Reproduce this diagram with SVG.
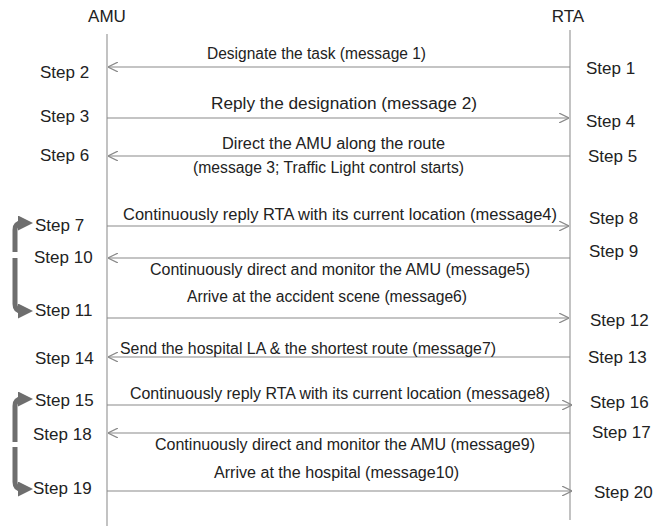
<svg xmlns="http://www.w3.org/2000/svg" width="664" height="526" viewBox="0 0 664 526">
<defs>
<style>
text{font-family:"Liberation Sans",Arial,sans-serif;fill:#222}
.lbl{font-size:16px}
.step{font-size:17px}
.hdr{font-size:17px}
.life{stroke:#9a9a9a;stroke-width:1.2;fill:none}
.msg{stroke:#8a8a8a;stroke-width:1.2;fill:none}
.loop{stroke:#6e6e6e;stroke-width:5;fill:none;stroke-linejoin:round}
</style>
<marker id="ah" viewBox="0 0 10 10" refX="10" refY="5" markerWidth="10" markerHeight="10" markerUnits="userSpaceOnUse" orient="auto">
<path d="M0,0 L10,5 L0,10" fill="none" stroke="#8a8a8a" stroke-width="1.2"/>
</marker>
<marker id="lh" viewBox="0 0 10 10" refX="6" refY="5" markerWidth="3" markerHeight="3" orient="auto">
<path d="M0,0 L10,5 L0,10 Z" fill="#6e6e6e"/>
</marker>
</defs>
<g id="AMU">
<text class="hdr" x="107" y="22" text-anchor="middle">AMU</text>
<line class="life" x1="107" y1="34" x2="107" y2="526"/>
</g>
<g id="RTA">
<text class="hdr" x="568" y="22" text-anchor="middle">RTA</text>
<line class="life" x1="570" y1="30" x2="570" y2="520"/>
</g>
<g id="connectors">
<line class="msg" x1="570" y1="67" x2="108" y2="67" marker-end="url(#ah)"/>
<line class="msg" x1="107" y1="118" x2="569" y2="118" marker-end="url(#ah)"/>
<line class="msg" x1="570" y1="156" x2="108" y2="156" marker-end="url(#ah)"/>
<line class="msg" x1="107" y1="226" x2="569" y2="226" marker-end="url(#ah)"/>
<line class="msg" x1="570" y1="258" x2="108" y2="258" marker-end="url(#ah)"/>
<line class="msg" x1="107" y1="318" x2="569" y2="318" marker-end="url(#ah)"/>
<line class="msg" x1="570" y1="357" x2="108" y2="357" marker-end="url(#ah)"/>
<line class="msg" x1="107" y1="405" x2="572" y2="405" marker-end="url(#ah)"/>
<line class="msg" x1="570" y1="433" x2="108" y2="433" marker-end="url(#ah)"/>
<line class="msg" x1="107" y1="491" x2="572" y2="491" marker-end="url(#ah)"/>
<path class="loop" d="M15,252 V230 Q15,223 22,223 H27" marker-end="url(#lh)"/>
<path class="loop" d="M15,258 V304 Q15,311 22,311 H27" marker-end="url(#lh)"/>
<path class="loop" d="M15,442 V406 Q15,399 22,399 H27" marker-end="url(#lh)"/>
<path class="loop" d="M15,447 V482 Q15,489 22,489 H27" marker-end="url(#lh)"/>
</g>
<g id="messages">
<text class="lbl" x="207" y="59" textLength="219" lengthAdjust="spacingAndGlyphs">Designate the task (message 1)</text>
<text class="lbl" x="211" y="109" textLength="266" lengthAdjust="spacingAndGlyphs">Reply the designation (message 2)</text>
<text class="lbl" x="222" y="149" textLength="223" lengthAdjust="spacingAndGlyphs">Direct the AMU along the route</text>
<text class="lbl" x="193" y="173" textLength="271" lengthAdjust="spacingAndGlyphs">(message 3; Traffic Light control starts)</text>
<text class="lbl" x="123" y="220" textLength="434" lengthAdjust="spacingAndGlyphs">Continuously reply RTA with its current location (message4)</text>
<text class="lbl" x="150" y="275" textLength="380" lengthAdjust="spacingAndGlyphs">Continuously direct and monitor the AMU (message5)</text>
<text class="lbl" x="187" y="302" textLength="280" lengthAdjust="spacingAndGlyphs">Arrive at the accident scene (message6)</text>
<text class="lbl" x="120" y="354" textLength="376" lengthAdjust="spacingAndGlyphs">Send the hospital LA &amp; the shortest route (message7)</text>
<text class="lbl" x="130" y="399" textLength="420" lengthAdjust="spacingAndGlyphs">Continuously reply RTA with its current location (message8)</text>
<text class="lbl" x="155" y="450" textLength="380" lengthAdjust="spacingAndGlyphs">Continuously direct and monitor the AMU (message9)</text>
<text class="lbl" x="214" y="478" textLength="245" lengthAdjust="spacingAndGlyphs">Arrive at the hospital (message10)</text>
</g>
<g id="steps-left">
<text class="step" x="40" y="78">Step 2</text>
<text class="step" x="40" y="122">Step 3</text>
<text class="step" x="40" y="161">Step 6</text>
<text class="step" x="35" y="231">Step 7</text>
<text class="step" x="34" y="263">Step 10</text>
<text class="step" x="35" y="316">Step 11</text>
<text class="step" x="35" y="364">Step 14</text>
<text class="step" x="35" y="406">Step 15</text>
<text class="step" x="33" y="440">Step 18</text>
<text class="step" x="33" y="494">Step 19</text>
</g>
<g id="steps-right">
<text class="step" x="586" y="74">Step 1</text>
<text class="step" x="586" y="127">Step 4</text>
<text class="step" x="588" y="162">Step 5</text>
<text class="step" x="589" y="224">Step 8</text>
<text class="step" x="589" y="257">Step 9</text>
<text class="step" x="590" y="326">Step 12</text>
<text class="step" x="588" y="363">Step 13</text>
<text class="step" x="590" y="408">Step 16</text>
<text class="step" x="592" y="438">Step 17</text>
<text class="step" x="594" y="498">Step 20</text>
</g>
</svg>
